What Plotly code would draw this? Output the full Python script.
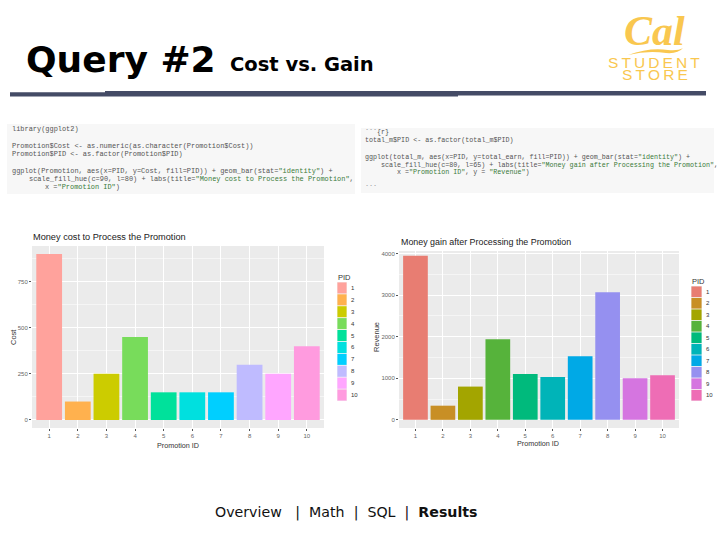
import plotly.graph_objects as go

promotion_ids = ["1", "2", "3", "4", "5", "6", "7", "8", "9", "10"]
cost_values = [900, 100, 250, 450, 150, 150, 150, 300, 250, 400]
revenue_values = [3950, 340, 800, 1940, 1100, 1030, 1530, 3070, 1000, 1070]
cost_colors = ["#FFA29C", "#FFB14E", "#CCCC00", "#78DC5B", "#00E19B",
               "#00E0DF", "#00CFFF", "#BFBBFF", "#FFA6FF", "#FF9BDF"]
revenue_colors = ["#E87D72", "#C88F25", "#A3A500", "#56B33B", "#00BA7C",
                  "#00B4B8", "#00A9E6", "#9590F0", "#D575E0", "#EE6DB5"]
cost_ticks = [0, 250, 500, 750]
revenue_ticks = [0, 1000, 2000, 3000, 4000]

GRN = '<span style="color:#3a7a3a">'
END = '</span>'
code_left = [
    (129, 0, 'library(ggplot2)'),
    (146, 0, 'Promotion$Cost &lt;- as.numeric(as.character(Promotion$Cost))'),
    (154, 0, 'Promotion$PID &lt;- as.factor(Promotion$PID)'),
    (171, 0, f'ggplot(Promotion, aes(x=PID, y=Cost, fill=PID)) + geom_bar(stat={GRN}"identity"{END}) +'),
    (179, 4, f'scale_fill_hue(c=90, l=80) + labs(title={GRN}"Money cost to Process the Promotion"{END},'),
    (187, 8, f'x ={GRN}"Promotion ID"{END})'),
]
code_right = [
    (132, 0, '```{r}'),
    (140, 0, 'total_m$PID &lt;- as.factor(total_m$PID)'),
    (157, 0, f'ggplot(total_m, aes(x=PID, y=total_earn, fill=PID)) + geom_bar(stat={GRN}"identity"{END}) +'),
    (165, 4, f'scale_fill_hue(c=80, l=65) + labs(title={GRN}"Money gain after Processing the Promotion"{END},'),
    (172, 8, f'x ={GRN}"Promotion ID"{END}, y = {GRN}"Revenue"{END})'),
    (188, 0, '```'),
]

W, H = 720, 540
xp = lambda x: x / W
yp = lambda y: 1 - y / H

fig = go.Figure()
fig.add_trace(go.Bar(x=promotion_ids, y=cost_values, marker=dict(color=cost_colors, line_width=0),
                     width=0.9, xaxis="x", yaxis="y", showlegend=False))
fig.add_trace(go.Bar(x=promotion_ids, y=revenue_values, marker=dict(color=revenue_colors, line_width=0),
                     width=0.9, xaxis="x2", yaxis="y2", showlegend=False))

shapes, ann = [], []


def rect(x0, y0, x1, y1, color, layer="above"):
    shapes.append(dict(type="rect", xref="paper", yref="paper", x0=xp(x0), x1=xp(x1),
                       y0=yp(y0), y1=yp(y1), fillcolor=color, line_width=0, layer=layer))


def text(x, y, s, size, color="#222", family="Liberation Sans", anchor="left", angle=0):
    ann.append(dict(x=xp(x), y=yp(y), xref="paper", yref="paper", text=s, showarrow=False,
                    xanchor=anchor, yanchor="middle", textangle=angle,
                    font=dict(size=size, color=color, family=family), borderpad=0))


# Header
text(25, 59, "<b>Query #2</b>", 36, "#000", "DejaVu Sans")
text(229, 65, "<b>Cost vs. Gain</b>", 19.5, "#000", "DejaVu Sans")
rect(10, 92.3, 105, 96.5, "#444B66")
rect(105, 91, 458, 96.5, "#444B66")
rect(458, 91, 706, 95.5, "#444B66")

# Logo
gold = "#F9C74F"
text(654, 31, "<b><i>Cal</i></b>", 42, gold, "Liberation Serif", "center")
shapes.append(dict(type="path", xref="paper", yref="paper", fillcolor=gold, line_width=0,
                   path=(f"M {xp(628)} {yp(55)} Q {xp(650)} {yp(47)} {xp(668)} {yp(50)} "
                         f"Q {xp(678)} {yp(51)} {xp(683)} {yp(48)} Q {xp(678)} {yp(54)} {xp(666)} {yp(53)} "
                         f"Q {xp(648)} {yp(50)} {xp(628)} {yp(55)} Z")))
thin = "\u2009"
text(653.5, 62.5, thin.join("STUDENT"), 15.5, gold, "Liberation Sans", "center")
text(654.5, 75, thin.join("STORE"), 15.5, gold, "Liberation Sans", "center")

# Code panels
rect(7, 124, 355, 194, "#F7F7F7", "below")
rect(361, 128, 714, 193, "#F7F7F7", "below")
for y, indent, line in code_left:
    text(11 + indent * 4.17, y, line, 6.95, "#555", "Liberation Mono")
for y, indent, line in code_right:
    text(364 + indent * 4.02, y, line, 6.7, "#555", "Liberation Mono")

# Chart titles and axis titles
text(32, 237, "Money cost to Process the Promotion", 9.2)
text(400, 242, "Money gain after Processing the Promotion", 8.9)
text(178, 445, "Promotion ID", 7.2, "#333", anchor="center")
text(538, 443, "Promotion ID", 7.2, "#333", anchor="center")
text(13, 337, "Cost", 7.5, "#333", anchor="center", angle=-90)
text(376, 337, "Revenue", 7.5, "#333", anchor="center", angle=-90)

# Legends
def legend(x0, x1, y0, step, colors, title_y, size):
    text(x0, title_y, "PID", size, "#333")
    for i, (label, c) in enumerate(zip(promotion_ids, colors)):
        rect(x0, y0 + i * step, x1, y0 + (i + 1) * step, "#F2F2F2")
        rect(x0 + 0.4, y0 + i * step + 0.4, x1 - 0.4, y0 + (i + 1) * step - 0.4, c)
        text(x1 + 3, y0 + (i + 0.5) * step, label, 6, "#333")


legend(337, 347, 282, 11.9, cost_colors, 277, 7.5)
legend(691, 702, 286, 11.5, revenue_colors, 281, 7.5)

# Footer
text(214, 512, "Overview&nbsp;&nbsp; |&nbsp; Math&nbsp; |&nbsp; SQL&nbsp; |&nbsp; <b>Results</b>", 14.2, "#111", "DejaVu Sans")

grid = dict(showgrid=True, gridcolor="white", gridwidth=1, zeroline=False,
            ticks="outside", ticklen=2, tickcolor="#555", tickwidth=0.6,
            tickfont=dict(size=6, color="#666", family="Liberation Sans"), showline=False)


def yaxis(lo, hi, ticks, minor, dom):
    return dict(range=[lo, hi], tickmode="array", tickvals=ticks, ticktext=[str(t) for t in ticks],
                domain=dom, minor=dict(showgrid=True, gridcolor="#F5F5F5", gridwidth=0.6,
                                       tickmode="array", tickvals=minor, ticks=""), **grid)


fig.update_layout(
    width=W, height=H, autosize=False, margin=dict(l=0, r=0, t=0, b=0),
    paper_bgcolor="white", plot_bgcolor="#EBEBEB", bargap=0.1, showlegend=False,
    shapes=shapes, annotations=ann,
    xaxis=dict(domain=[xp(32), xp(324)], range=[-0.6, 9.6], type="category", anchor="y", **grid),
    yaxis=yaxis(-43.4, 943, cost_ticks, [125, 375, 625, 875], [yp(428), yp(246)]),
    xaxis2=dict(domain=[xp(399), xp(679)], range=[-0.6, 9.6], type="category", anchor="y2", **grid),
    yaxis2=yaxis(-197, 4064, revenue_ticks, [500, 1500, 2500, 3500], [yp(428), yp(251)]),
)
fig.layout.yaxis2.anchor = "x2"
fig.layout.yaxis.anchor = "x"
fig.write_html("out.html", config={"displayModeBar": False},
               post_script="document.body.style.margin='0';document.body.style.overflow='hidden';")
